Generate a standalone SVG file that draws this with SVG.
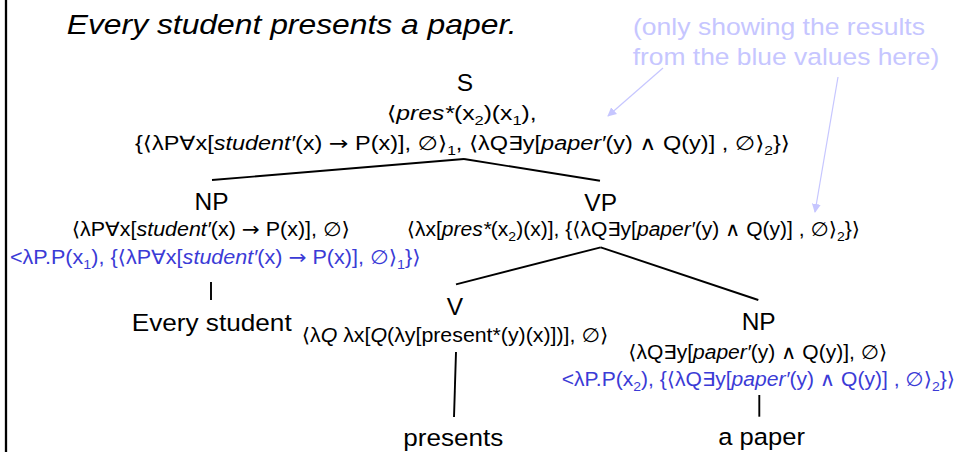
<svg xmlns="http://www.w3.org/2000/svg" width="959" height="452" viewBox="0 0 959 452">
<defs>
<style>
text{font-family:"Liberation Sans","DejaVu Sans",Arial,sans-serif;fill:#000}
.lab{font-size:24.5px}
.f{font-size:19.5px}
.blue{fill:#3b3bd6}
.note{font-size:24.5px;fill:#c6c6ff}
.i{font-style:italic}
.ar{font-family:"DejaVu Sans",sans-serif}
.tree{stroke:#000;stroke-width:1.9;fill:none}
.ptr{stroke:#c6c6ff;stroke-width:1.2;fill:none;marker-end:url(#ah)}
</style>
<marker id="ah" viewBox="0 0 10 10" refX="9" refY="5" markerWidth="9" markerHeight="9" markerUnits="userSpaceOnUse" orient="auto">
<path d="M0,0 L10,5 L0,10 Z" fill="#c6c6ff"/>
</marker>
</defs>
<rect x="0" y="0" width="959" height="452" fill="#fff"/>
<line x1="6" y1="0" x2="6" y2="452" stroke="#000" stroke-width="2.3"/>

<g id="title">
<text class="i" x="66.7" y="34" font-size="28.5" textLength="450" lengthAdjust="spacingAndGlyphs">Every student presents a paper.</text>
</g>

<g id="note">
<text class="note" x="633" y="35" textLength="292" lengthAdjust="spacingAndGlyphs">(only showing the results</text>
<text class="note" x="632.7" y="65" textLength="306.6" lengthAdjust="spacingAndGlyphs">from the blue values here)</text>
</g>

<g id="connectors">
<line class="tree" x1="464" y1="159" x2="212" y2="180"/>
<line class="tree" x1="464" y1="159" x2="600" y2="180.7"/>
<line class="tree" x1="211" y1="282" x2="211" y2="300"/>
<line class="tree" x1="600.7" y1="247.3" x2="456" y2="284.3"/>
<line class="tree" x1="600.7" y1="247.3" x2="758.3" y2="300"/>
<line class="tree" x1="456" y1="352" x2="454" y2="417"/>
<line class="tree" x1="759.3" y1="395" x2="759.3" y2="416.7"/>
<line class="ptr" x1="663" y1="68" x2="608" y2="116"/>
<line class="ptr" x1="838" y1="77" x2="815" y2="212"/>
</g>

<g id="node-S">
<text class="lab" x="465" y="91" text-anchor="middle">S</text>
<text class="f" x="386.7" y="120" textLength="150" lengthAdjust="spacingAndGlyphs">⟨<tspan class="i">pres*</tspan>(x<tspan dy="5" font-size="13">2</tspan><tspan dy="-5">)(x</tspan><tspan dy="5" font-size="13">1</tspan><tspan dy="-5">),</tspan></text>
<text class="f" x="135" y="149.5" textLength="655" lengthAdjust="spacingAndGlyphs">{⟨λP∀x[<tspan class="i">student′</tspan>(x) <tspan class="ar">→</tspan> P(x)], ∅⟩<tspan dy="5" font-size="13">1</tspan><tspan dy="-5">, ⟨λQ∃y[</tspan><tspan class="i">paper′</tspan>(y) ∧ Q(y)] , ∅⟩<tspan dy="5" font-size="13">2</tspan><tspan dy="-5">}⟩</tspan></text>
</g>

<g id="node-NP1">
<text class="lab" x="211.5" y="210" text-anchor="middle">NP</text>
<text class="f" x="71.7" y="235.5" textLength="278.3" lengthAdjust="spacingAndGlyphs">⟨λP∀x[<tspan class="i">student′</tspan>(x) <tspan class="ar">→</tspan> P(x)], ∅⟩</text>
<text class="f blue" x="10" y="264" textLength="410.7" lengthAdjust="spacingAndGlyphs">&lt;λP.P(x<tspan dy="5" font-size="13">1</tspan><tspan dy="-5">), {⟨λP∀x[</tspan><tspan class="i">student′</tspan>(x) <tspan class="ar">→</tspan> P(x)], ∅⟩<tspan dy="5" font-size="13">1</tspan><tspan dy="-5">}⟩</tspan></text>
</g>

<g id="leaf-every-student">
<text class="lab" x="131.7" y="330.7" textLength="160" lengthAdjust="spacingAndGlyphs">Every student</text>
</g>

<g id="node-VP">
<text class="lab" x="600.7" y="210.7" text-anchor="middle">VP</text>
<text class="f" x="406.7" y="236" textLength="453.3" lengthAdjust="spacingAndGlyphs">⟨λx[<tspan class="i">pres*</tspan>(x<tspan dy="5" font-size="13">2</tspan><tspan dy="-5">)(x)], {⟨λQ∃y[</tspan><tspan class="i">paper′</tspan>(y) ∧ Q(y)] , ∅⟩<tspan dy="5" font-size="13">2</tspan><tspan dy="-5">}⟩</tspan></text>
</g>

<g id="node-V">
<text class="lab" x="455" y="315" text-anchor="middle">V</text>
<text class="f" x="301.7" y="342" textLength="306.6" lengthAdjust="spacingAndGlyphs">⟨λ<tspan class="i">Q</tspan> λx[<tspan class="i">Q</tspan>(λy[present*(y)(x)])], ∅⟩</text>
</g>

<g id="leaf-presents">
<text class="lab" x="403.3" y="445.5" textLength="100" lengthAdjust="spacingAndGlyphs">presents</text>
</g>

<g id="node-NP2">
<text class="lab" x="758.7" y="330" text-anchor="middle">NP</text>
<text class="f" x="628.3" y="359" textLength="259" lengthAdjust="spacingAndGlyphs">⟨λQ∃y[<tspan class="i">paper′</tspan>(y) ∧ Q(y)], ∅⟩</text>
<text class="f blue" x="561.7" y="386" textLength="393.3" lengthAdjust="spacingAndGlyphs">&lt;λP.P(x<tspan dy="5" font-size="13">2</tspan><tspan dy="-5">), {⟨λQ∃y[</tspan><tspan class="i">paper′</tspan>(y) ∧ Q(y)] , ∅⟩<tspan dy="5" font-size="13">2</tspan><tspan dy="-5">}⟩</tspan></text>
</g>

<g id="leaf-a-paper">
<text class="lab" x="718.3" y="445" textLength="86.7" lengthAdjust="spacingAndGlyphs">a paper</text>
</g>
</svg>
